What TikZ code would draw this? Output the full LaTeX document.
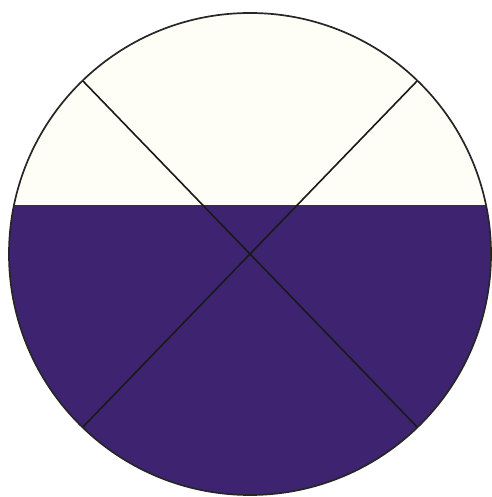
\documentclass[tikz,border=0pt]{standalone}
\usepackage{tikz}
\definecolor{deeppurple}{RGB}{62,36,112}
\definecolor{cream}{RGB}{254,254,247}
\tikzset{outline/.style={draw=black!85,line width=1.7pt},
  spoke/.style={draw=black!90,line width=1.6pt}}
\begin{document}
\begin{tikzpicture}[x=1pt,y=1pt]
\useasboundingbox (0,0) rectangle (491,497);
\coordinate (c) at (250,243);
\fill[cream] (c) circle (241);
\begin{scope}
\clip (c) circle (241);
\fill[deeppurple] (0,0) rectangle (491,292);
\end{scope}
\path (c) ++(134:241) coordinate (tl) (c) ++(46:241) coordinate (tr)
      (c) ++(226:241) coordinate (bl) (c) ++(-46:241) coordinate (br);
\draw[spoke] (tl) -- (br);
\draw[spoke] (tr) -- (bl);
\draw[outline] (c) circle (241);
\end{tikzpicture}
\end{document}
